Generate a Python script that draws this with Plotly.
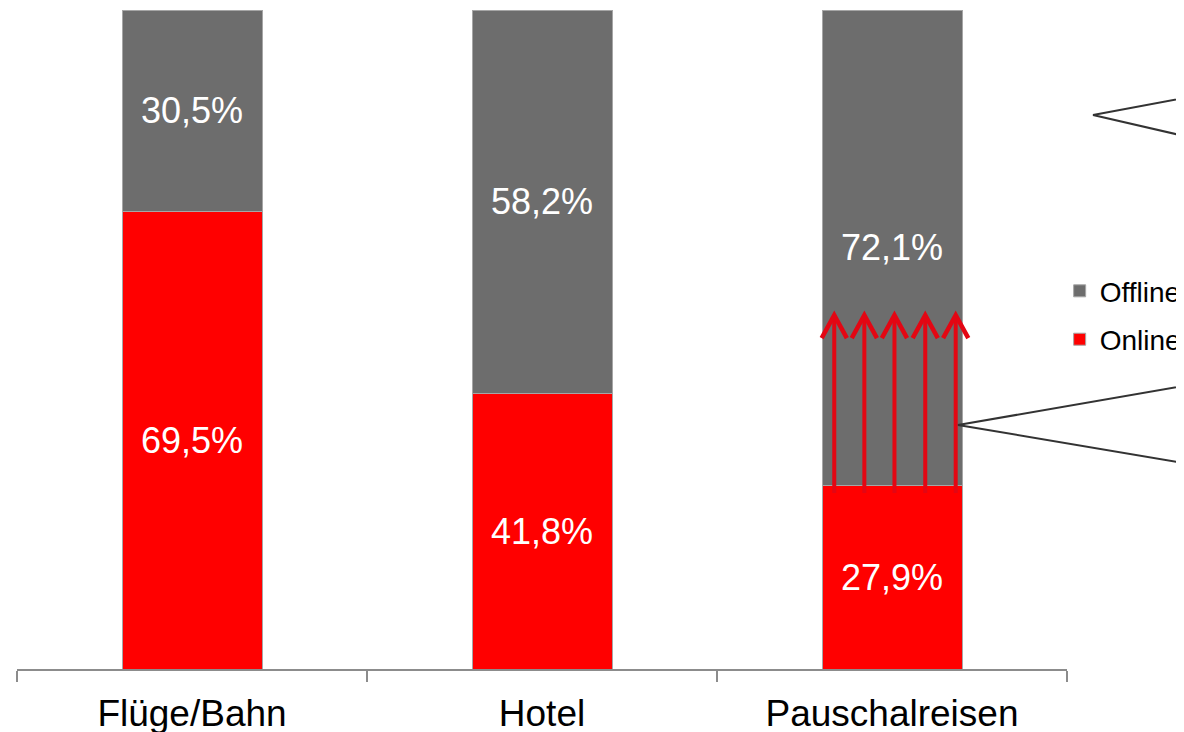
import plotly.graph_objects as go

categories = ["Flüge/Bahn", "Hotel", "Pauschalreisen"]
online = [69.5, 41.8, 27.9]
offline = [30.5, 58.2, 72.1]
series_names = ["Online", "Offline"]

# decorative arrows on the Pauschalreisen bar (offsets in category units, values in %)
arrow_category_index = 2
arrow_offsets = [-0.165, -0.079, 0.007, 0.095, 0.182]
arrow_from = 26.7
arrow_to = 53.7


def fmt(v):
    return f"{v:.1f}".replace(".", ",") + "%"


FONT = "Liberation Sans, Arial, sans-serif"
RED = "#ff0000"
GRAY = "#6d6d6d"
OUTLINE = "#a6a6a6"
ARROW = "#e30613"

fig = go.Figure()
fig.add_trace(go.Bar(
    x=categories, y=online, name=series_names[0], legendgroup="on", legendrank=2,
    marker=dict(color=RED, line=dict(color=OUTLINE, width=1)),
    text=[fmt(v) for v in online], textposition="inside",
    insidetextanchor="middle", textfont=dict(color="white", size=36, family=FONT),
    hoverinfo="skip",
))
fig.add_trace(go.Bar(
    x=categories, y=offline, name=series_names[1], legendgroup="off", legendrank=1,
    marker=dict(color=GRAY, line=dict(color=OUTLINE, width=1)),
    text=[fmt(v) for v in offline], textposition="inside",
    insidetextanchor="middle", textfont=dict(color="white", size=36, family=FONT),
    hoverinfo="skip",
))

shapes = []
barb_dx = 0.036
barb_dy = 3.5
for off in arrow_offsets:
    xc = arrow_category_index + off
    shapes.append(dict(type="line", xref="x", yref="y", x0=xc, x1=xc,
                       y0=arrow_from, y1=arrow_to - 0.4,
                       line=dict(color=ARROW, width=4)))
    shapes.append(dict(type="path", xref="x", yref="y",
                       path=f"M {xc - barb_dx} {arrow_to - barb_dy} L {xc} {arrow_to} L {xc + barb_dx} {arrow_to - barb_dy}",
                       line=dict(color=ARROW, width=4.5)))

# callout outlines (partially outside the canvas, as in the reference)
shapes.append(dict(type="path", xref="paper", yref="paper",
                   path="M 1.1267 0.8710 L 1.0248 0.8407 L 1.1267 0.8032",
                   line=dict(color="#333333", width=2)))
shapes.append(dict(type="path", xref="paper", yref="paper",
                   path="M 1.1267 0.4337 L 0.8962 0.3703 L 1.1267 0.3085",
                   line=dict(color="#333333", width=2)))

fig.update_layout(
    width=1184, height=732,
    margin=dict(l=9, r=125, t=2, b=71, autoexpand=False),
    barmode="stack", bargap=0.6,
    plot_bgcolor="white", paper_bgcolor="white",
    font=dict(family=FONT, color="black"),
    showlegend=True,
    legend=dict(x=0.993, xanchor="left", y=0.537, yanchor="middle",
                font=dict(size=28, family=FONT, color="black"),
                traceorder="grouped", tracegroupgap=9,
                bgcolor="rgba(0,0,0,0)", itemwidth=30),
    xaxis=dict(range=[-0.5, 2.5], showline=True, linecolor="#8c8c8c", linewidth=1.5,
               ticks="outside", tickson="boundaries", tickcolor="#8c8c8c",
               ticklen=11, tickwidth=1.5, tickfont=dict(size=37, family=FONT, color="black"),
               ticklabelstandoff=11, automargin=False,
               showgrid=False, zeroline=False, fixedrange=True),
    yaxis=dict(range=[0, 100], visible=False, showgrid=False, zeroline=False,
               fixedrange=True, automargin=False),
    shapes=shapes,
    uniformtext=dict(mode="show", minsize=10),
)

fig.write_html("out.html")
